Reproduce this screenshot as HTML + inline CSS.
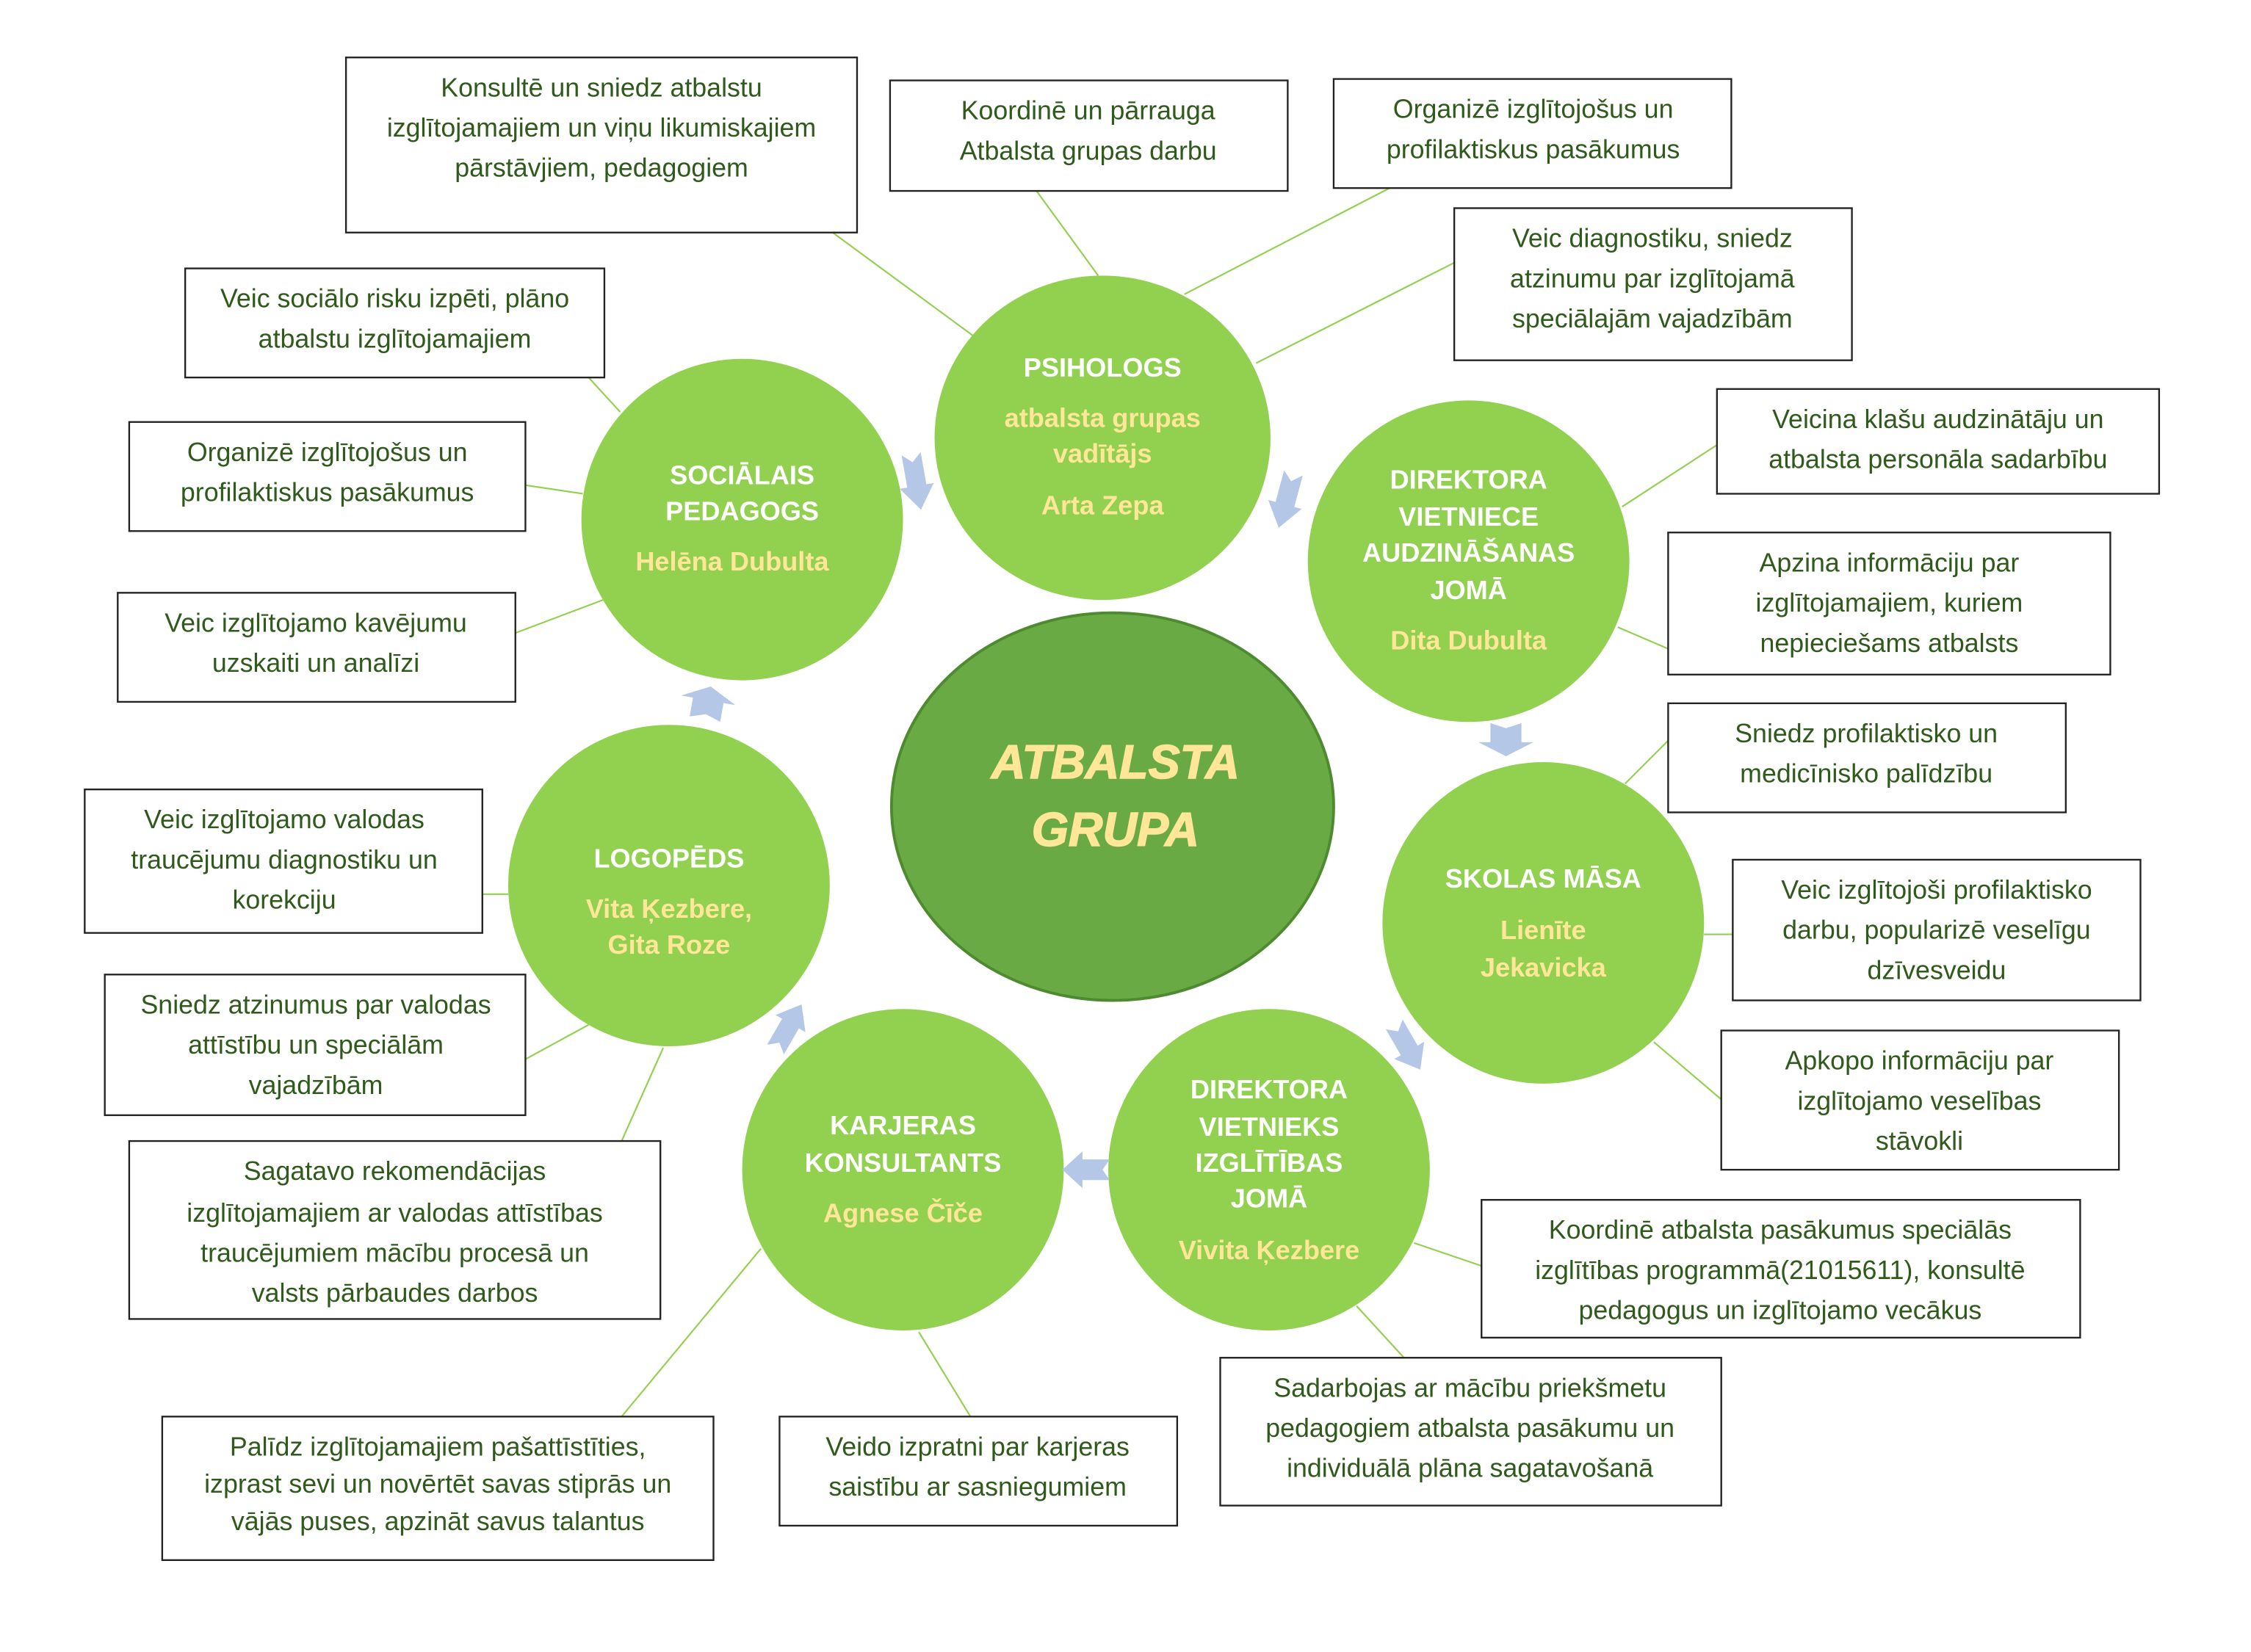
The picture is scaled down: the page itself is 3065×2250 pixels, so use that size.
<!DOCTYPE html>
<html><head><meta charset="utf-8"><style>
html,body{margin:0;padding:0;background:#fff;}
svg{display:block;}
.b{fill:#fff;stroke:#222;stroke-width:1.2;}
.t{font-family:"Liberation Sans",sans-serif;font-size:18.3px;fill:#2f5a1c;text-anchor:middle;dominant-baseline:central;}
.c{fill:#92d050;}
.h{font-family:"Liberation Sans",sans-serif;font-size:18.5px;font-weight:bold;fill:#fff;text-anchor:middle;dominant-baseline:central;}
.n{font-family:"Liberation Sans",sans-serif;font-size:18.5px;font-weight:bold;fill:#ffe699;text-anchor:middle;dominant-baseline:central;}
.l{stroke:#92d050;stroke-width:1.1;}
.a{fill:#b4c7e7;}
</style></head><body>
<svg width="3065" height="2250" viewBox="0 0 1568 1151" xmlns="http://www.w3.org/2000/svg">
<defs><path id="ar" d="M-16,-9 L3,-9 L3,-16 L17,0 L3,16 L3,9 L-16,9 L-11,0 Z"/></defs>
<g class="l">
<line x1="580" y1="162" x2="678" y2="234"/>
<line x1="722" y1="133" x2="765" y2="192"/>
<line x1="968" y1="131" x2="825" y2="205"/>
<line x1="1013" y1="183" x2="875" y2="253"/>
<line x1="410" y1="263" x2="432" y2="287"/>
<line x1="366" y1="338" x2="406" y2="344"/>
<line x1="359" y1="441" x2="420" y2="418"/>
<line x1="1196" y1="310" x2="1130" y2="353"/>
<line x1="1162" y1="452" x2="1127" y2="437"/>
<line x1="1162" y1="516" x2="1132" y2="546"/>
<line x1="1207" y1="651" x2="1187" y2="651"/>
<line x1="1199" y1="766" x2="1152" y2="726"/>
<line x1="1032" y1="882" x2="985" y2="866"/>
<line x1="978" y1="946" x2="945" y2="910"/>
<line x1="676" y1="987" x2="640" y2="928"/>
<line x1="433" y1="987" x2="530" y2="870"/>
<line x1="336" y1="623" x2="354" y2="623"/>
<line x1="366" y1="738" x2="410" y2="714"/>
<line x1="433" y1="795" x2="462" y2="730"/>
</g>
<ellipse cx="775" cy="562" rx="154" ry="135" fill="#6aaa45" stroke="#4e8a2f" stroke-width="2"/>
<text x="777" y="531" font-family="Liberation Sans,sans-serif" font-size="33" font-weight="bold" font-style="italic" fill="#ffe699" text-anchor="middle" dominant-baseline="central" stroke="#ffe699" stroke-width="0.8">ATBALSTA</text>
<text x="777" y="578" font-family="Liberation Sans,sans-serif" font-size="33" font-weight="bold" font-style="italic" fill="#ffe699" text-anchor="middle" dominant-baseline="central" stroke="#ffe699" stroke-width="0.8">GRUPA</text>

<ellipse class="c" cx="768" cy="305" rx="117" ry="113"/>
<ellipse class="c" cx="517" cy="362" rx="112" ry="112"/>
<ellipse class="c" cx="1023" cy="391" rx="112" ry="112"/>
<ellipse class="c" cx="1075" cy="643" rx="112" ry="112"/>
<ellipse class="c" cx="884" cy="815" rx="112" ry="112"/>
<ellipse class="c" cx="629" cy="815" rx="112" ry="112"/>
<ellipse class="c" cx="466" cy="617" rx="112" ry="112"/>

<text class="h" x="768" y="256">PSIHOLOGS</text>
<text class="n" x="768" y="291">atbalsta grupas</text>
<text class="n" x="768" y="316">vadītājs</text>
<text class="n" x="768" y="352">Arta Zepa</text>

<text class="h" x="517" y="331">SOCIĀLAIS</text>
<text class="h" x="517" y="356">PEDAGOGS</text>
<text class="n" x="510" y="391">Helēna Dubulta</text>

<text class="h" x="1023" y="334">DIREKTORA</text>
<text class="h" x="1023" y="360">VIETNIECE</text>
<text class="h" x="1023" y="385">AUDZINĀŠANAS</text>
<text class="h" x="1023" y="411">JOMĀ</text>
<text class="n" x="1023" y="446">Dita Dubulta</text>

<text class="h" x="1075" y="612">SKOLAS MĀSA</text>
<text class="n" x="1075" y="648">Lienīte</text>
<text class="n" x="1075" y="674">Jekavicka</text>

<text class="h" x="884" y="759">DIREKTORA</text>
<text class="h" x="884" y="785">VIETNIEKS</text>
<text class="h" x="884" y="810">IZGLĪTĪBAS</text>
<text class="h" x="884" y="835">JOMĀ</text>
<text class="n" x="884" y="871">Vivita Ķezbere</text>

<text class="h" x="629" y="784">KARJERAS</text>
<text class="h" x="629" y="810">KONSULTANTS</text>
<text class="n" x="629" y="845">Agnese Čīče</text>

<text class="h" x="466" y="598">LOGOPĒDS</text>
<text class="n" x="466" y="633">Vita Ķezbere,</text>
<text class="n" x="466" y="658">Gita Roze</text>

<g class="a">
<use href="#ar" transform="translate(638,335) rotate(80) scale(1.2,0.75)"/>
<use href="#ar" transform="translate(896,348) rotate(105) scale(1.2,0.75)"/>
<use href="#ar" transform="translate(1049,515) rotate(90) scale(0.7,1.2)"/>
<use href="#ar" transform="translate(980,729) rotate(60) scale(1.1,0.75)"/>
<use href="#ar" transform="translate(757,815) rotate(180) scale(1,0.8)"/>
<use href="#ar" transform="translate(549,716) rotate(-60) scale(1.1,0.75)"/>
<use href="#ar" transform="translate(493,490) rotate(-80) scale(0.7,1.2)"/>
</g>

<rect class="b" x="241" y="40" width="356" height="122"/>
<text class="t" x="419" y="61">Konsultē un sniedz atbalstu</text>
<text class="t" x="419" y="89">izglītojamajiem un viņu likumiskajiem</text>
<text class="t" x="419" y="117">pārstāvjiem, pedagogiem</text>

<rect class="b" x="620" y="56" width="277" height="77"/>
<text class="t" x="758" y="77">Koordinē un pārrauga</text>
<text class="t" x="758" y="105">Atbalsta grupas darbu</text>

<rect class="b" x="929" y="55" width="277" height="76"/>
<text class="t" x="1068" y="76">Organizē izglītojošus un</text>
<text class="t" x="1068" y="104">profilaktiskus pasākumus</text>

<rect class="b" x="1013" y="145" width="277" height="106"/>
<text class="t" x="1151" y="166">Veic diagnostiku, sniedz</text>
<text class="t" x="1151" y="194">atzinumu par izglītojamā</text>
<text class="t" x="1151" y="222">speciālajām vajadzībām</text>

<rect class="b" x="129" y="187" width="292" height="76"/>
<text class="t" x="275" y="208">Veic sociālo risku izpēti, plāno</text>
<text class="t" x="275" y="236">atbalstu izglītojamajiem</text>

<rect class="b" x="90" y="294" width="276" height="76"/>
<text class="t" x="228" y="315">Organizē izglītojošus un</text>
<text class="t" x="228" y="343">profilaktiskus pasākumus</text>

<rect class="b" x="82" y="413" width="277" height="76"/>
<text class="t" x="220" y="434">Veic izglītojamo kavējumu</text>
<text class="t" x="220" y="462">uzskaiti un analīzi</text>

<rect class="b" x="1196" y="271" width="308" height="73"/>
<text class="t" x="1350" y="292">Veicina klašu audzinātāju un</text>
<text class="t" x="1350" y="320">atbalsta personāla sadarbību</text>

<rect class="b" x="1162" y="371" width="308" height="99"/>
<text class="t" x="1316" y="392">Apzina informāciju par</text>
<text class="t" x="1316" y="420">izglītojamajiem, kuriem</text>
<text class="t" x="1316" y="448">nepieciešams atbalsts</text>

<rect class="b" x="1162" y="490" width="277" height="76"/>
<text class="t" x="1300" y="511">Sniedz profilaktisko un</text>
<text class="t" x="1300" y="539">medicīnisko palīdzību</text>

<rect class="b" x="1207" y="599" width="284" height="98"/>
<text class="t" x="1349" y="620">Veic izglītojoši profilaktisko</text>
<text class="t" x="1349" y="648">darbu, popularizē veselīgu</text>
<text class="t" x="1349" y="676">dzīvesveidu</text>

<rect class="b" x="1199" y="718" width="277" height="97"/>
<text class="t" x="1337" y="739">Apkopo informāciju par</text>
<text class="t" x="1337" y="767">izglītojamo veselības</text>
<text class="t" x="1337" y="795">stāvokli</text>

<rect class="b" x="1032" y="836" width="417" height="96"/>
<text class="t" x="1240" y="857">Koordinē atbalsta pasākumus speciālās</text>
<text class="t" x="1240" y="885">izglītības programmā(21015611), konsultē</text>
<text class="t" x="1240" y="913">pedagogus un izglītojamo vecākus</text>

<rect class="b" x="850" y="946" width="349" height="103"/>
<text class="t" x="1024" y="967">Sadarbojas ar mācību priekšmetu</text>
<text class="t" x="1024" y="995">pedagogiem  atbalsta pasākumu un</text>
<text class="t" x="1024" y="1023">individuālā plāna sagatavošanā</text>

<rect class="b" x="543" y="987" width="277" height="76"/>
<text class="t" x="681" y="1008">Veido izpratni par karjeras</text>
<text class="t" x="681" y="1036">saistību ar sasniegumiem</text>

<rect class="b" x="113" y="987" width="384" height="100"/>
<text class="t" x="305" y="1008">Palīdz izglītojamajiem pašattīstīties,</text>
<text class="t" x="305" y="1034">izprast sevi un novērtēt savas stiprās un</text>
<text class="t" x="305" y="1060">vājās puses, apzināt savus talantus</text>

<rect class="b" x="59" y="550" width="277" height="100"/>
<text class="t" x="198" y="571">Veic izglītojamo valodas</text>
<text class="t" x="198" y="599">traucējumu diagnostiku un</text>
<text class="t" x="198" y="627">korekciju</text>

<rect class="b" x="73" y="679" width="293" height="98"/>
<text class="t" x="220" y="700">Sniedz atzinumus par valodas</text>
<text class="t" x="220" y="728">attīstību un speciālām</text>
<text class="t" x="220" y="756">vajadzībām</text>

<rect class="b" x="90" y="795" width="370" height="124"/>
<text class="t" x="275" y="816">Sagatavo rekomendācijas</text>
<text class="t" x="275" y="845">izglītojamajiem ar valodas attīstības</text>
<text class="t" x="275" y="873">traucējumiem mācību procesā un</text>
<text class="t" x="275" y="901">valsts pārbaudes darbos</text>
</svg>
</body></html>
